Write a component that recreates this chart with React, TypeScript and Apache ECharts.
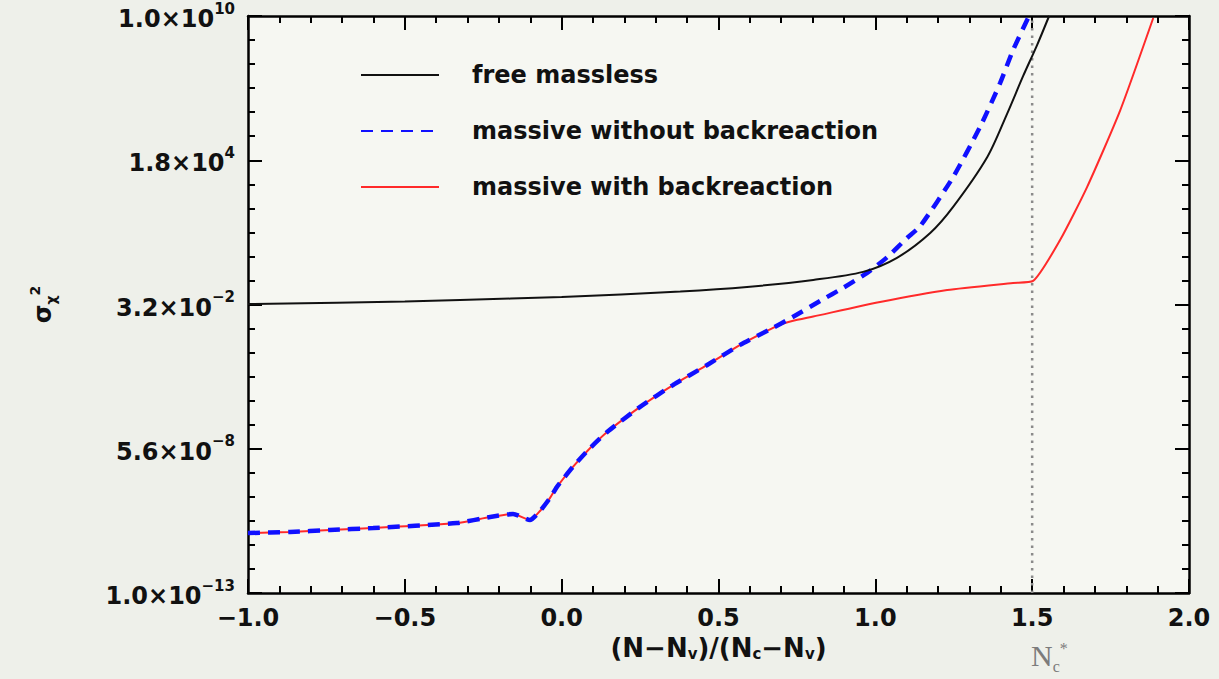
import React, { useEffect, useRef } from "react";
import * as echarts from "echarts";

// x = (N - N_v)/(N_c - N_v); y values are log10(sigma_chi^2)
const xFree = [-1.0, -0.5, -0.324, 0.0, 0.378, 0.591, 0.802, 0.961, 1.069, 1.175, 1.248, 1.357, 1.42, 1.471, 1.516, 1.554];
const yFree = [-1.48, -1.38, -1.32, -1.2, -0.98, -0.8, -0.52, -0.2, 0.36, 1.35, 2.39, 4.38, 6.1, 7.6, 8.85, 10.0];

const xNoBack = [-1.0, -0.866, -0.739, -0.601, -0.334, -0.228, -0.155, -0.101, -0.069, -0.037, -0.015, 0.036, 0.091, 0.145, 0.25, 0.355, 0.464, 0.569, 0.674, 0.728, 0.824, 0.897, 0.974, 1.038, 1.101, 1.143, 1.248, 1.334, 1.398, 1.439, 1.487];
const yNoBack = [-10.61, -10.57, -10.49, -10.41, -10.21, -9.97, -9.85, -10.09, -9.73, -9.21, -8.77, -7.97, -7.22, -6.58, -5.58, -4.71, -3.91, -3.11, -2.43, -2.06, -1.36, -0.84, -0.24, 0.39, 1.15, 1.62, 3.58, 5.58, 7.33, 8.64, 9.92];

const xBack = [-1.0, -0.866, -0.739, -0.601, -0.334, -0.228, -0.155, -0.101, -0.069, -0.037, -0.015, 0.036, 0.091, 0.145, 0.25, 0.355, 0.464, 0.569, 0.674, 0.70, 0.735, 0.802, 1.015, 1.229, 1.439, 1.503, 1.589, 1.675, 1.781, 1.886];
const yBack = [-10.61, -10.57, -10.49, -10.41, -10.21, -9.97, -9.85, -10.09, -9.73, -9.21, -8.77, -7.97, -7.22, -6.58, -5.58, -4.71, -3.91, -3.11, -2.43, -2.29, -2.16, -1.98, -1.4, -0.92, -0.64, -0.56, 1.07, 3.18, 6.25, 9.92];

const xTicks = [-1.0, -0.5, 0.0, 0.5, 1.0, 1.5, 2.0];
const yTickExps = [-13, -7.25, -1.5, 4.25, 10];
const nCritical = 1.5;

const seriesNames = ["free massless", "massive without backreaction", "massive with backreaction"];

const FONT = "DejaVu Sans";

function zip(xs: number[], ys: number[]) {
  return xs.map((x, i) => [x, ys[i]]);
}

function yLabel(v: number) {
  const s = Math.pow(10, v).toExponential(1);
  const [mant, e] = s.split("e");
  const ex = parseInt(e, 10);
  const exStr = ex < 0 ? "\u2212" + Math.abs(ex) : String(ex);
  return `{b|${mant}\u00d710}{s|${exStr}}`;
}

export default function App() {
  const ref = useRef<HTMLDivElement>(null);
  useEffect(() => {
    if (!ref.current) return;
    const chart = echarts.init(ref.current, null, { renderer: "svg" });
    const tickStyle = { color: "#000", width: 2 };
    const baseX = {
      type: "value" as const,
      min: xTicks[0],
      max: xTicks[xTicks.length - 1],
      interval: xTicks[1] - xTicks[0],
      axisLine: { show: true, onZero: false, lineStyle: { color: "#000", width: 2.5 } },
      axisTick: { show: true, inside: true, length: 14, lineStyle: tickStyle },
      minorTick: { show: true, splitNumber: 5, length: 7, lineStyle: tickStyle },
      splitLine: { show: false },
    };
    const baseY = {
      type: "value" as const,
      min: yTickExps[0],
      max: yTickExps[yTickExps.length - 1],
      interval: yTickExps[1] - yTickExps[0],
      axisLine: { show: true, onZero: false, lineStyle: { color: "#000", width: 2.5 } },
      axisTick: { show: true, inside: true, length: 14, lineStyle: tickStyle },
      minorTick: { show: true, splitNumber: 6, length: 7, lineStyle: tickStyle },
      splitLine: { show: false },
    };
    chart.setOption({
      animation: false,
      backgroundColor: "#eef0ea",
      grid: {
        left: 248,
        right: 30,
        top: 16,
        bottom: 86,
        show: true,
        backgroundColor: "#f6f7f2",
        borderWidth: 0,
        outerBoundsMode: "none",
      },
      legend: {
        data: seriesNames,
        orient: "vertical",
        left: 355,
        top: 57,
        itemWidth: 78,
        itemHeight: 14,
        itemGap: 30,
        selectedMode: false,
        itemStyle: { opacity: 0, borderWidth: 0 },
        textStyle: {
          fontFamily: FONT,
          fontWeight: "bold",
          fontSize: 24,
          color: "#111",
          lineHeight: 26,
          padding: [0, 0, 0, 28],
        },
      },
      xAxis: [
        {
          ...baseX,
          position: "bottom",
          name: "(N\u2212N{sub|v})/(N{sub|c}\u2212N{sub|v})",
          nameLocation: "middle",
          nameGap: 42,
          nameTextStyle: {
            fontFamily: FONT,
            fontWeight: "bold",
            fontSize: 26,
            color: "#111",
            rich: {
              sub: { fontFamily: FONT, fontWeight: "bold", fontSize: 15, color: "#111", verticalAlign: "bottom", padding: [10, 0, 0, 0] },
            },
          },
          axisLabel: {
            show: true,
            margin: 13,
            fontFamily: FONT,
            fontWeight: "bold",
            fontSize: 24,
            color: "#111",
            formatter: (v: number) => (v < 0 ? "\u2212" + Math.abs(v).toFixed(1) : v.toFixed(1)),
          },
        },
        { ...baseX, position: "top", axisLabel: { show: false } },
      ],
      yAxis: [
        {
          ...baseY,
          position: "left",
          name: "{s|\u03c3}{sub|\u03c7}{sup|2}",
          nameLocation: "middle",
          nameRotate: 90,
          nameGap: 190,
          nameTextStyle: {
            rich: {
              s: { fontFamily: FONT, fontWeight: "bold", fontSize: 24, color: "#111", lineHeight: 30 },
              sub: { fontFamily: FONT, fontWeight: "bold", fontSize: 14, color: "#111", verticalAlign: "bottom", lineHeight: 14 },
              sup: { fontFamily: FONT, fontWeight: "bold", fontSize: 14, color: "#111", verticalAlign: "top", lineHeight: 14 },
            },
          },
          axisLabel: {
            show: true,
            margin: 13,
            formatter: yLabel,
            rich: {
              b: { fontFamily: FONT, fontWeight: "bold", fontSize: 24, color: "#111", lineHeight: 30, verticalAlign: "bottom" },
              s: { fontFamily: FONT, fontWeight: "bold", fontSize: 15, color: "#111", lineHeight: 15, verticalAlign: "top" },
            },
          },
        },
        { ...baseY, position: "right", axisLabel: { show: false } },
      ],
      series: [
        {
          name: "Nc*",
          type: "line",
          data: [
            [nCritical, yTickExps[0]],
            [nCritical, yTickExps[yTickExps.length - 1]],
          ],
          showSymbol: false,
          symbol: "none",
          silent: true,
          lineStyle: { color: "#8a8a8a", width: 2.5, type: [2.5, 5] },
        },
        {
          name: seriesNames[2],
          type: "line",
          data: zip(xBack, yBack),
          symbol: "none",
          showSymbol: false,
          smooth: 0.2,
          lineStyle: { color: "#ff2a2a", width: 2 },
          itemStyle: { color: "#ff2a2a" },
        },
        {
          name: seriesNames[1],
          type: "line",
          data: zip(xNoBack, yNoBack),
          symbol: "none",
          showSymbol: false,
          smooth: 0.2,
          lineStyle: { color: "#1010ff", width: 4.5, type: [12, 8] },
          itemStyle: { color: "#1010ff" },
        },
        {
          name: seriesNames[0],
          type: "line",
          data: zip(xFree, yFree),
          symbol: "none",
          showSymbol: false,
          smooth: 0.3,
          lineStyle: { color: "#111", width: 2 },
          itemStyle: { color: "#111" },
        },
      ],
      graphic: [
        {
          type: "text",
          x: 1031,
          y: 640,
          silent: true,
          style: {
            text: "{n|N}{c|c}{st|*}",
            rich: {
              n: { fontFamily: "Liberation Serif", fontSize: 30, fill: "#7c7c7c", verticalAlign: "bottom", lineHeight: 30 },
              c: { fontFamily: "Liberation Serif", fontSize: 16, fill: "#7c7c7c", verticalAlign: "bottom", lineHeight: 16, padding: [0, 0, -4, 0] },
              st: { fontFamily: "Liberation Serif", fontSize: 16, fill: "#7c7c7c", verticalAlign: "top", lineHeight: 16 },
            },
          },
        },
      ],
    });
    return () => chart.dispose();
  }, []);
  return (
    <div
      ref={ref}
      style={{ position: "fixed", left: 0, top: 0, width: 1219, height: 679 }}
    />
  );
}
